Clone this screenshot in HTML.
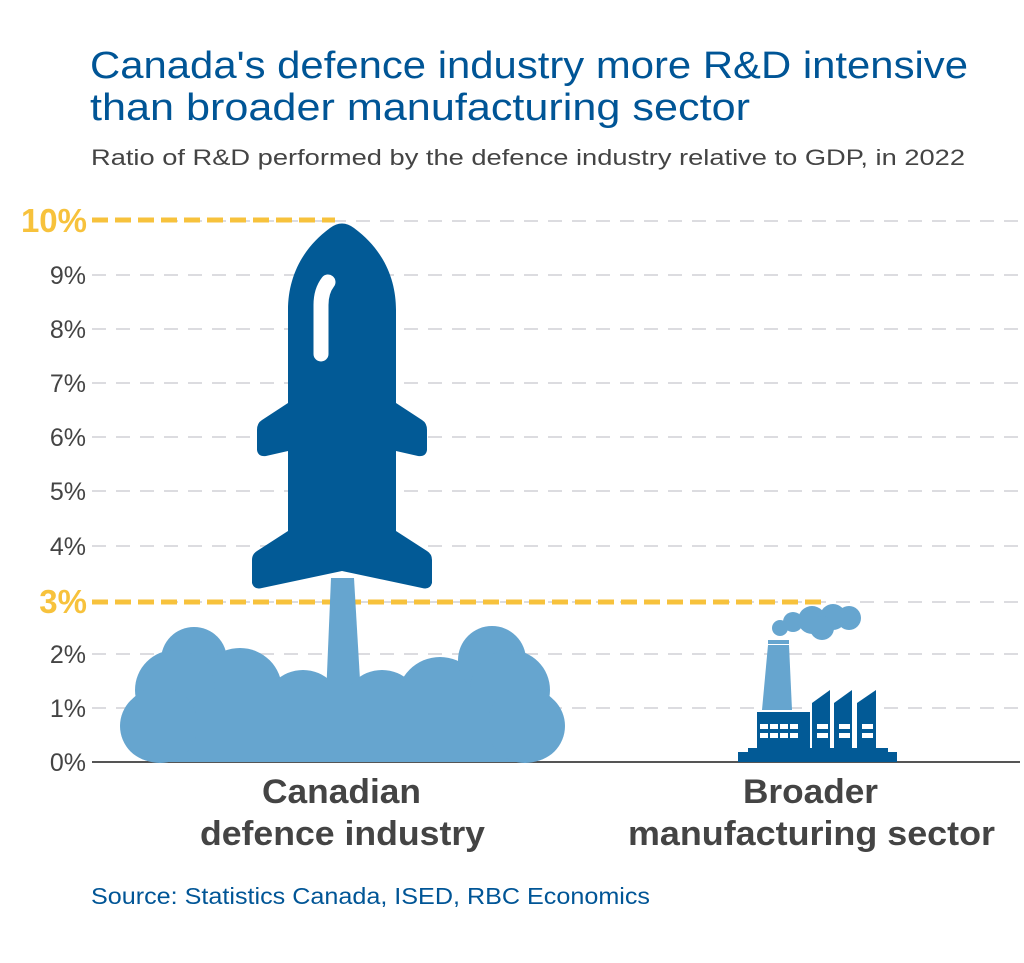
<!DOCTYPE html>
<html><head><style>
body{margin:0;background:#fff;}
svg{display:block;}
text{font-family:"Liberation Sans",sans-serif;}
</style></head><body>
<svg width="1024" height="963" viewBox="0 0 1024 963">
<text x="90" y="78" font-size="38" fill="#005596" textLength="878" lengthAdjust="spacingAndGlyphs">Canada's defence industry more R&amp;D intensive</text>
<text x="90" y="120" font-size="38" fill="#005596" textLength="660" lengthAdjust="spacingAndGlyphs">than broader manufacturing sector</text>
<text x="91" y="165" font-size="22" fill="#444" textLength="874" lengthAdjust="spacingAndGlyphs">Ratio of R&amp;D performed by the defence industry relative to GDP, in 2022</text>
<g stroke="#dcdce0" stroke-width="2" stroke-dasharray="14,10">
<line x1="92" y1="221" x2="1020" y2="221"/><line x1="92" y1="275" x2="1020" y2="275"/>
<line x1="92" y1="329" x2="1020" y2="329"/><line x1="92" y1="383" x2="1020" y2="383"/>
<line x1="92" y1="437" x2="1020" y2="437"/><line x1="92" y1="491" x2="1020" y2="491"/>
<line x1="92" y1="546" x2="1020" y2="546"/><line x1="92" y1="602" x2="1020" y2="602"/>
<line x1="92" y1="654" x2="1020" y2="654"/><line x1="92" y1="708" x2="1020" y2="708"/>
</g>
<g stroke="#f7c23c" stroke-width="5" stroke-dasharray="16,7">
<line x1="92" y1="220" x2="335" y2="220"/><line x1="92" y1="602" x2="822" y2="602"/>
</g>
<line x1="92" y1="762" x2="1020" y2="762" stroke="#555" stroke-width="2"/>
<g font-size="25" fill="#444" text-anchor="end">
<text x="86" y="284">9%</text><text x="86" y="338">8%</text><text x="86" y="392">7%</text>
<text x="86" y="446">6%</text><text x="86" y="500">5%</text><text x="86" y="555">4%</text>
<text x="86" y="663">2%</text><text x="86" y="717">1%</text><text x="86" y="771">0%</text>
</g>
<text x="87" y="232" font-size="33" font-weight="bold" fill="#f7c23c" text-anchor="end">10%</text>
<text x="87" y="613" font-size="33" font-weight="bold" fill="#f7c23c" text-anchor="end">3%</text>
<g fill="#66a5cf">
<polygon points="326,697 331,578 354,578 361,697"/>
<circle cx="194" cy="660" r="33"/><circle cx="240" cy="690" r="42"/><circle cx="175" cy="690" r="40"/>
<circle cx="303" cy="710" r="40"/><circle cx="382" cy="710" r="40"/><circle cx="440" cy="700" r="43"/>
<circle cx="492" cy="660" r="34"/><circle cx="510" cy="690" r="40"/>
<rect x="120" y="690" width="445" height="72" rx="36"/>
<circle cx="160" cy="725" r="38"/><circle cx="525" cy="725" r="38"/>
</g>
<g fill="#025a96">
<path d="M288,533 L288,310 C288,280 300,250 330,228 Q342,219 354,228 C384,250 396,280 396,310 L396,533 Z"/>
<path d="M288,403 L262,420 Q257,423 257,430 L257,450 Q258,457 266,456 L288,451 Z"/>
<path d="M396,403 L422,420 Q427,423 427,430 L427,450 Q426,457 418,456 L396,451 Z"/>
<path d="M288,531 L257,551 Q252,554 252,560 L252,583 Q254,590 262,588 L342,571 L422,588 Q430,590 432,583 L432,560 Q432,554 427,551 L396,531 Z"/>
</g>
<path d="M321,354 L321,305 Q321,291 328,282" stroke="#fff" stroke-width="15" stroke-linecap="round" fill="none"/>
<g fill="#66a5cf">
<polygon points="762,710 768,645 789,645 792,710"/>
<rect x="768" y="640" width="21" height="4"/>
<circle cx="780" cy="628" r="8"/><circle cx="793" cy="622" r="10"/><circle cx="812" cy="620" r="14"/>
<circle cx="833" cy="617" r="13"/><circle cx="849" cy="618" r="12"/><circle cx="822" cy="628" r="12"/>
</g>
<g fill="#025a96">
<rect x="757" y="712" width="53" height="40"/>
<polygon points="812,752 812,703 830,690 830,752"/><polygon points="834,752 834,703 852,690 852,752"/>
<polygon points="857,752 857,703 876,690 876,752"/>
<rect x="748" y="748" width="140" height="6"/>
<rect x="738" y="752" width="159" height="10"/>
</g>
<g fill="#fff">
<rect x="760" y="724" width="8" height="5"/><rect x="770" y="724" width="8" height="5"/><rect x="780" y="724" width="8" height="5"/><rect x="790" y="724" width="8" height="5"/>
<rect x="760" y="733" width="8" height="5"/><rect x="770" y="733" width="8" height="5"/><rect x="780" y="733" width="8" height="5"/><rect x="790" y="733" width="8" height="5"/>
<rect x="817" y="724" width="11" height="5"/><rect x="817" y="733" width="11" height="5"/>
<rect x="839" y="724" width="11" height="5"/><rect x="839" y="733" width="11" height="5"/>
<rect x="862" y="724" width="11" height="5"/><rect x="862" y="733" width="11" height="5"/>
</g>
<g font-size="34" fill="#444" font-weight="bold">
<text x="262" y="803" textLength="159" lengthAdjust="spacingAndGlyphs">Canadian</text>
<text x="200" y="845" textLength="285" lengthAdjust="spacingAndGlyphs">defence industry</text>
<text x="743" y="803" textLength="135" lengthAdjust="spacingAndGlyphs">Broader</text>
<text x="628" y="845" textLength="367" lengthAdjust="spacingAndGlyphs">manufacturing sector</text>
</g>
<text x="91" y="904" font-size="23" fill="#005596" textLength="559" lengthAdjust="spacingAndGlyphs">Source: Statistics Canada, ISED, RBC Economics</text>
</svg>
</body></html>
